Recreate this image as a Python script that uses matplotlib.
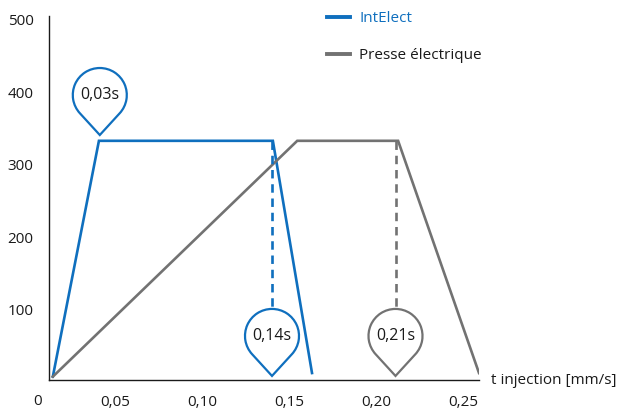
import numpy as np
import matplotlib
matplotlib.use("Agg")
import matplotlib.pyplot as plt
import matplotlib.transforms as mtransforms
from matplotlib.path import Path
from matplotlib.patches import PathPatch

plt.rcParams['font.family'] = ['Open Sans', 'DejaVu Sans']

# data
blue_x = [0.014, 0.0405, 0.1405, 0.163]
blue_y = [8, 333, 333, 13]
grey_x = [0.014, 0.1545, 0.2125, 0.259]
grey_y = [8, 333, 333, 13]

xticks = [0.05, 0.10, 0.15, 0.20, 0.25]
xtick_labels = ['0,05', '0,10', '0,15', '0,20', '0,25']
yticks = [100, 200, 300, 400, 500]

# pins: tip position and label
pin_x = [0.041, 0.14, 0.211]
pin_y = [341, 9, 9]
pin_labels = ['0,03s', '0,14s', '0,21s']
dash_x = [0.14, 0.211]
dash_top = 333
dash_bottom = 101

BLUE = '#0f6fbe'
GREY = '#727272'
pin_colors = [BLUE, BLUE, GREY]
dash_colors = [BLUE, GREY]

fig = plt.figure(figsize=(6.2, 4.09), dpi=100)
ax = fig.add_axes([49/620, 29/409, 430/620, 364/409])

ax.plot(blue_x, blue_y, color=BLUE, lw=1.9, label='IntElect', solid_joinstyle='miter')
ax.plot(grey_x, grey_y, color=GREY, lw=1.9, label='Presse électrique', solid_joinstyle='miter')

for x, c in zip(dash_x, dash_colors):
    ax.plot([x, x], [dash_top, dash_bottom], color=c, lw=1.9, dashes=(3.2, 2.2))


def teardrop(r=27, d=40):
    ang = np.degrees(np.arccos(r / d))
    arc = Path.arc(-90 + ang, 270 - ang)
    verts = arc.vertices * r + np.array([0, d])
    codes = list(arc.codes)
    codes[0] = Path.LINETO
    verts = np.vstack([[0, 0], verts, [0, 0]])
    codes = [Path.MOVETO] + codes + [Path.CLOSEPOLY]
    return Path(verts, codes)


pin_path = teardrop()
for x, y, lab, c in zip(pin_x, pin_y, pin_labels, pin_colors):
    tr = mtransforms.ScaledTranslation(x, y, ax.transData)
    patch = PathPatch(pin_path, facecolor='white', edgecolor=c, lw=1.6,
                      transform=tr, clip_on=False, zorder=5)
    ax.add_patch(patch)
    ax.annotate(lab, (x, y), xytext=(0, 40 * 0.72), textcoords='offset points',
                ha='center', va='center', fontsize=11.5, color='#1a1a1a', zorder=6)

ax.set_xlim(0.0118, 0.259)
ax.set_ylim(3.4, 505)
ax.set_xticks(xticks)
ax.set_xticklabels(xtick_labels)
ax.set_yticks(yticks)
ax.tick_params(length=0, labelsize=11, pad=11, colors='#1a1a1a')
for s in ['top', 'right']:
    ax.spines[s].set_visible(False)
for s in ['left', 'bottom']:
    ax.spines[s].set_linewidth(1.0)
    ax.spines[s].set_color('#1a1a1a')

ax.text(-0.0256, -0.0604, '0', transform=ax.transAxes, ha='center', va='center',
        fontsize=11, color='#1a1a1a')
ax.text(1.028, 0.0, 't injection [mm/s]', transform=ax.transAxes, ha='left',
        va='center', fontsize=11, color='#1a1a1a')

leg = ax.legend(loc='upper left', bbox_to_anchor=(327/620, 398/409),
                bbox_transform=fig.transFigure, frameon=False, borderpad=0,
                borderaxespad=0, handlelength=1.5, handletextpad=0.6,
                labelspacing=1.45, fontsize=11, labelcolor=[BLUE, '#1a1a1a'])
for h in leg.get_lines():
    h.set_linewidth(2.8)

fig.savefig('out.png', dpi=100)
